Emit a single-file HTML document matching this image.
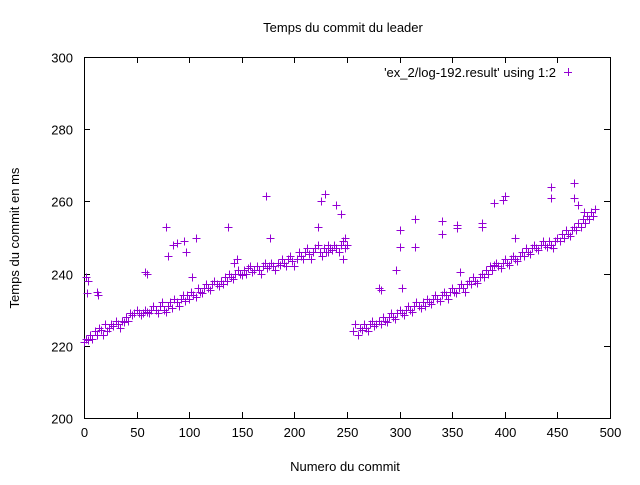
<!DOCTYPE html>
<html><head><meta charset="utf-8"><style>
body{margin:0;background:#fff}
svg{font-family:"Liberation Sans",sans-serif;font-size:13px}
line,rect{shape-rendering:crispEdges}
</style></head><body>
<svg id="chart" width="640" height="480" xmlns="http://www.w3.org/2000/svg">
<rect width="640" height="480" fill="#fff"/>
<text x="343" y="32" text-anchor="middle">Temps du commit du leader</text>
<text x="345" y="471" text-anchor="middle">Numero du commit</text>
<text transform="translate(19,238) rotate(-90)" text-anchor="middle">Temps du commit en ms</text>
<g id="axes"></g>
<g id="marks"></g>
<text x="556" y="77" text-anchor="end">'ex_2/log-192.result' using 1:2</text>
<g stroke="#9400d3" stroke-width="1"><line x1="564" y1="72.5" x2="572" y2="72.5"/><line x1="568.5" y1="68" x2="568.5" y2="76"/></g>
</svg>
<script>
const xTicks=[0,50,100,150,200,250,300,350,400,450,500];
const yTicks=[200,220,240,260,280,300];
const seg1Start=0, seg1Step=2;
const seg1=[221,222,221.5,223,222,224,223,225,224.5,223,
226,224,225,226,225.5,227,226,225,227,226.5,
228,227,229,228.5,229,230,229,228.5,229,230,
229.5,229,230,231,230,229,231,232,230,229.5,
231,232,230.5,233,232,231,233,234,232.5,234,
233,235,234,233.5,236,235,234.5,236,237,236,
235.5,237,238,237,236.5,238,237,239,238,240,
239,238.5,240,241,240,239.5,241,240,241.5,242,
240.5,241,242,241,240,242,243,241.5,242,243,
242,241,243,242.5,244,243,242,244,245,243.5,
242,244,246,245,244,246,247,245.5,244,246,
247,248,246,245,247,246,248,247,246.5,248,
247,246,248,249,247,248];
const seg2Start=256, seg2Step=2;
const seg2=[224,226,223,225,224.5,226,225,224,226,227,
225.5,226,227,226,228,227,226.5,228,229,228,
227.5,229,230,229,228.5,230,231,230,229.5,231,
232,231,230.5,232,231,233,232,231.5,233,234,
233,232.5,234,235,234,233,235,236,235,234.5,
236,237,236,235,237,238,237,239,238,237.5,
239,240,239,241,240,242,241,242.5,243,242,
241.5,243,244,243,242.5,244,245,244,243.5,245,
246,245,247,246,245.5,247,248,247,246.5,248,
249,248,247.5,249,248,247,249,250,249,251,
250,252,251,250.5,252,253,252,254,253,255,
254,256,255,257,256,258];
const outX=[2,3,4,12,13,30,58,60,78,80,85,88,95,97,103,106,137,143,145,173,177,222,225,229,232,240,244,248,246,
280,282,297,300,300,302,315,315,340,340,355,355,357,378,378,390,398,400,410,444,444,466,466,470,475];
const outY=[239,234.5,238,235,234,227,240.5,240,253,245,248,248.5,249,246,239,250,253,243,244,261.5,250,253,260,262,246,259,256.5,250,244,
236,235.5,241,252,247.5,236,255,247.5,254.5,251,253.5,252.5,240.5,254,253,259.5,260.5,261.5,250,264,261,265,261,259,257];
const L=84,R=610,T=57,B=418;
const xs=v=>L+(v-0)/(500-0)*(R-L);
const ys=v=>B-(v-200)/(300-200)*(B-T);
const NS="http://www.w3.org/2000/svg";
const axes=document.getElementById('axes');
const marks=document.getElementById('marks');
function mk(tag,attrs,parent){const e=document.createElementNS(NS,tag);for(const k in attrs)e.setAttribute(k,attrs[k]);parent.appendChild(e);return e;}
const frame=mk('rect',{x:L+0.5,y:T+0.5,width:R-L,height:B-T,fill:'none',stroke:'#000','stroke-width':1},axes);


xTicks.forEach(t=>{const x=Math.round(xs(t))+0.5;
 const g=mk('g',{},axes);
 
 
 mk('line',{x1:x,y1:B,x2:x,y2:B-6,stroke:'#000'},g);
 mk('line',{x1:x,y1:T,x2:x,y2:T+6,stroke:'#000'},g);
 const tx=mk('text',{x:x,y:B+19,'text-anchor':'middle'},g);tx.textContent=t;});
yTicks.forEach(t=>{const y=Math.round(ys(t))+0.5;
 const g=mk('g',{},axes);
 
 
 mk('line',{x1:L,y1:y,x2:L+6,y2:y,stroke:'#000'},g);
 mk('line',{x1:R,y1:y,x2:R-6,y2:y,stroke:'#000'},g);
 const tx=mk('text',{x:L-11,y:y+5,'text-anchor':'end'},g);tx.textContent=t;});
function plus(vx,vy){const x=Math.round(xs(vx))+0.5,y=Math.round(ys(vy))+0.5;
 const g=mk('g',{stroke:'#9400d3','stroke-width':1},marks);
 
 
 mk('line',{x1:x-4,y1:y,x2:x+4,y2:y},g);
 mk('line',{x1:x,y1:y-4,x2:x,y2:y+4},g);}
seg1.forEach((v,i)=>plus(seg1Start+i*seg1Step,v));
seg2.forEach((v,i)=>plus(seg2Start+i*seg2Step,v));
outX.forEach((v,i)=>plus(v,outY[i]));
</script>
</body></html>
